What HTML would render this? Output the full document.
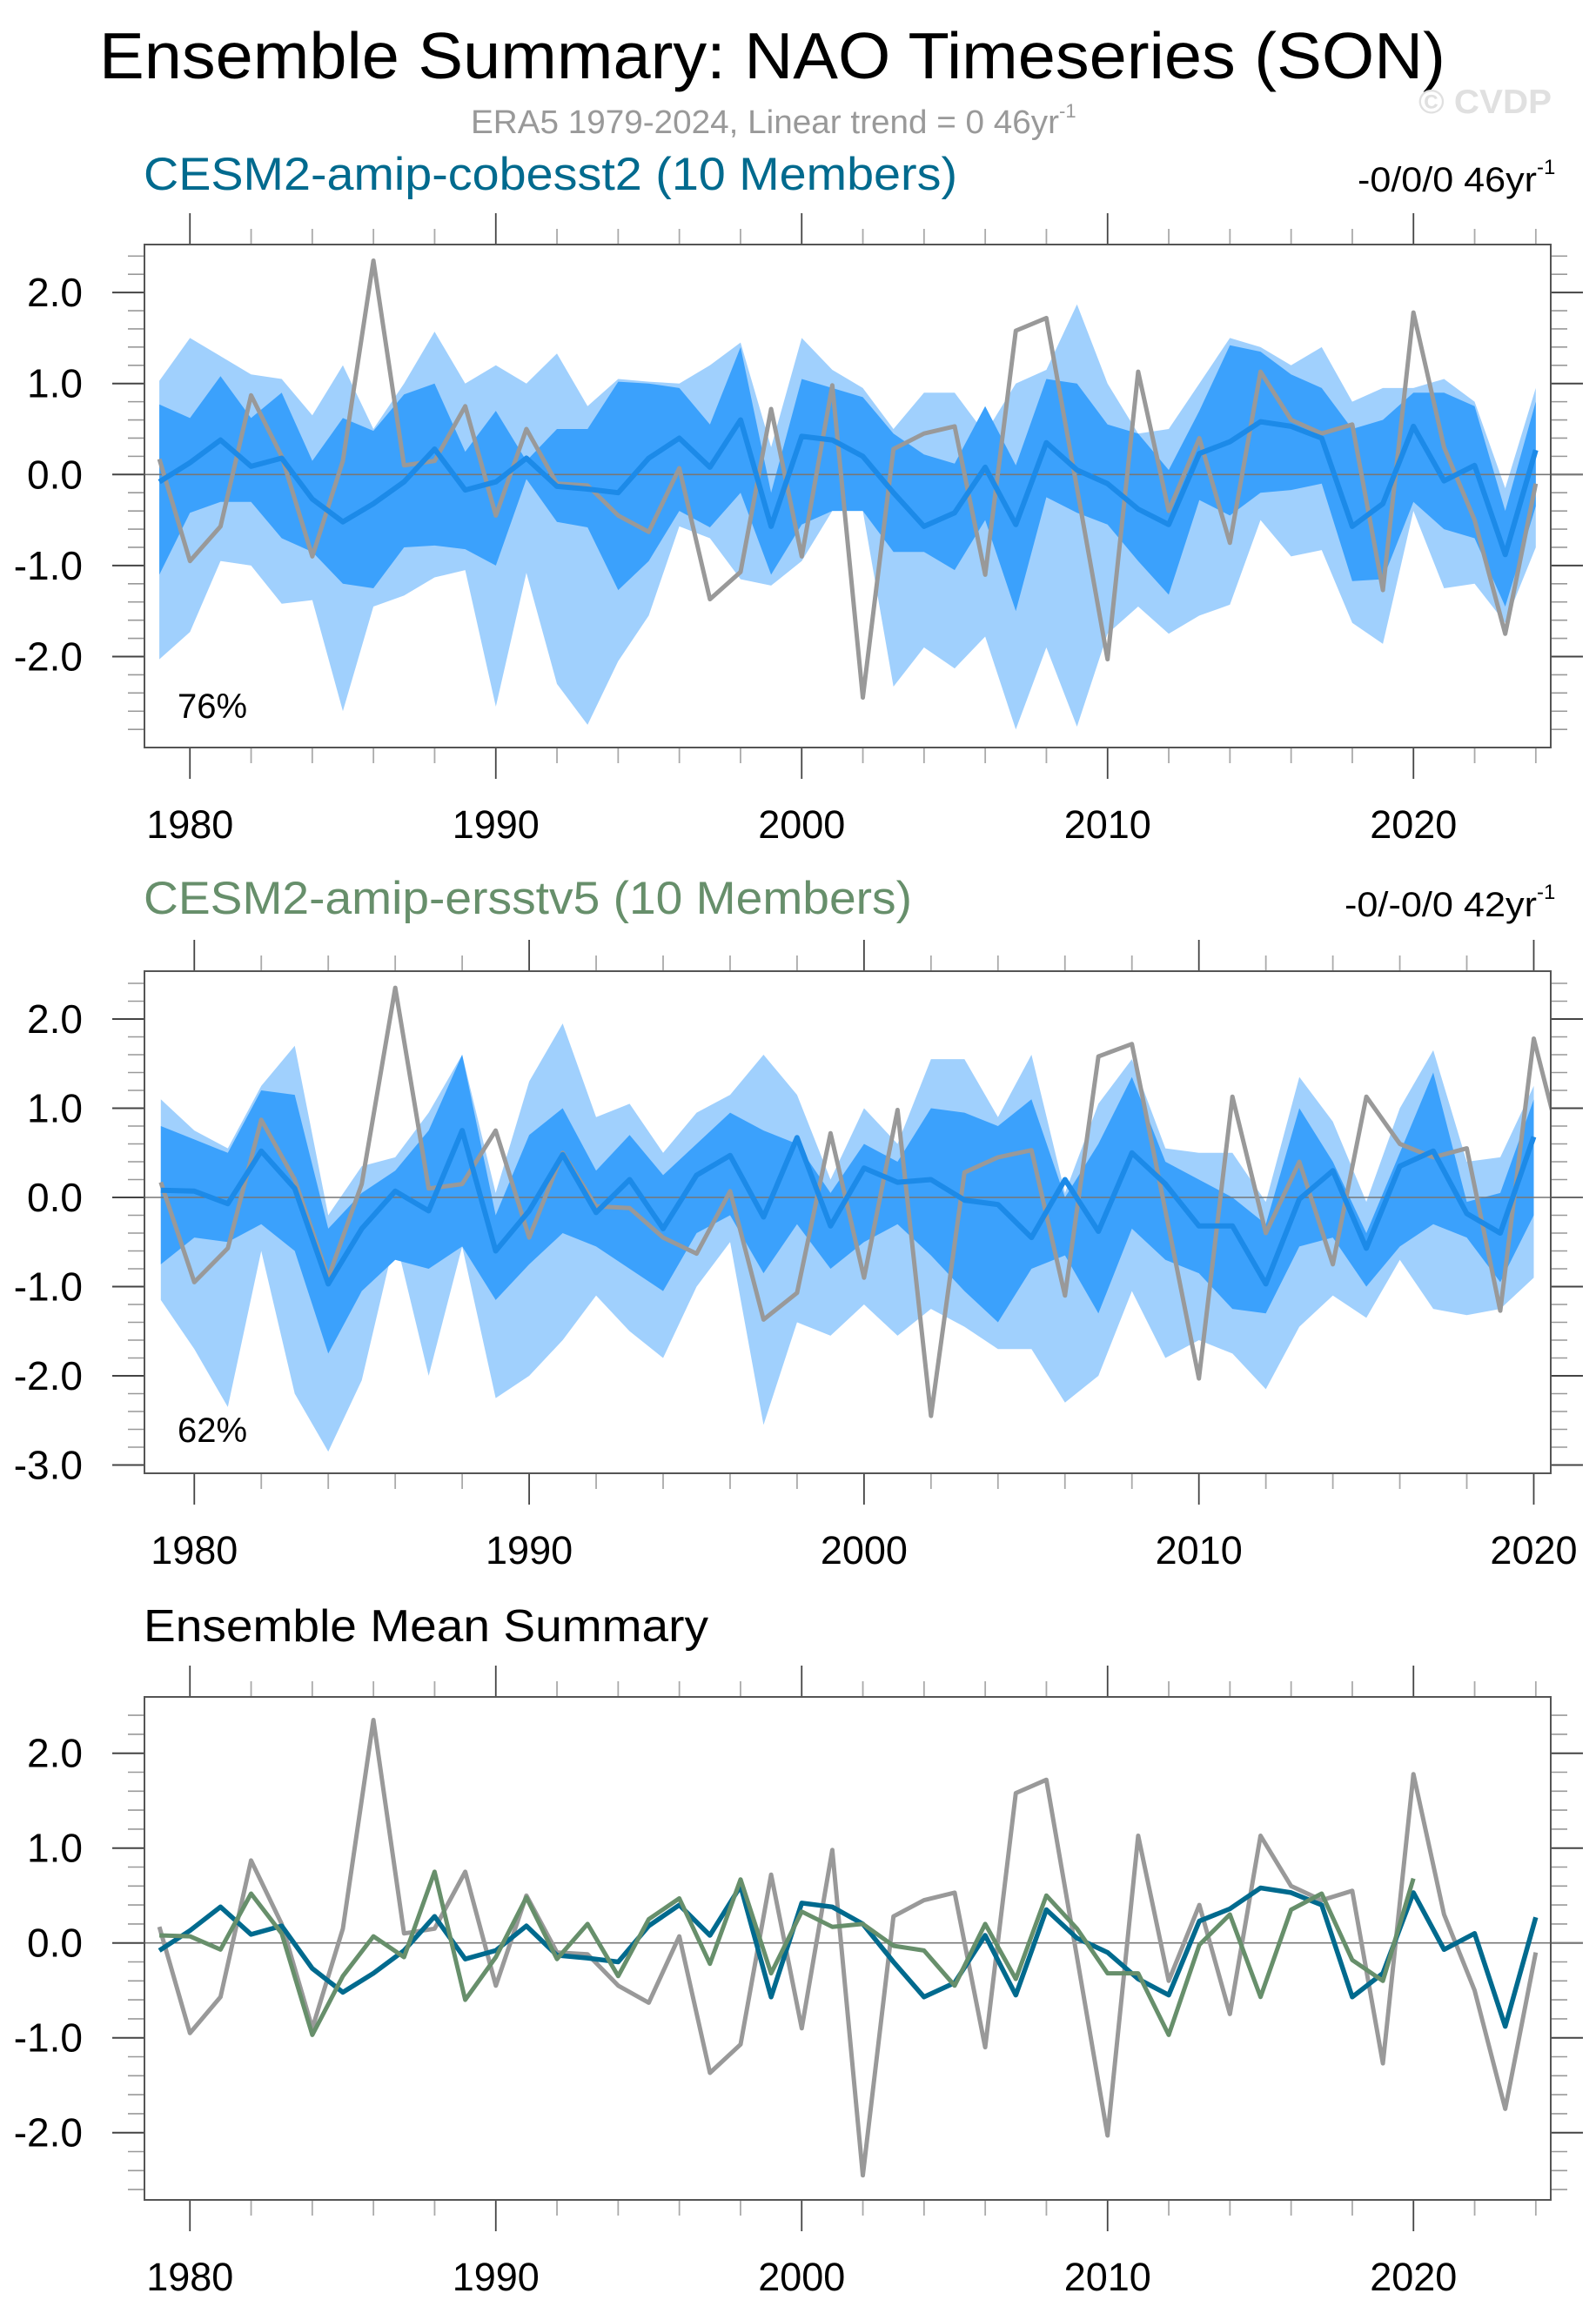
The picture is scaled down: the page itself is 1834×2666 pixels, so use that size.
<!DOCTYPE html>
<html><head><meta charset="utf-8"><style>
html,body{margin:0;padding:0;background:#fff;}
svg{display:block;font-family:"Liberation Sans",Arial,sans-serif;}
</style></head><body>
<svg id="chart" xmlns="http://www.w3.org/2000/svg" width="1834" height="2666" viewBox="0 0 1834 2666">
<rect x="0" y="0" width="1834" height="2666" fill="#fff"/>
<text x="114" y="90" font-size="75" fill="#000" textLength="1547" lengthAdjust="spacingAndGlyphs">Ensemble Summary: NAO Timeseries (SON)</text>
<text x="541" y="153" font-size="38" fill="#999"><tspan textLength="676" lengthAdjust="spacingAndGlyphs">ERA5 1979-2024, Linear trend = 0 46yr</tspan><tspan font-size="22" dy="-18">-1</tspan></text>
<text x="1630" y="130" font-size="39" font-weight="bold" fill="#e0e0e0" textLength="153" lengthAdjust="spacingAndGlyphs">© CVDP</text>

<text x="165" y="218" font-size="53" fill="#006a8e" textLength="935" lengthAdjust="spacingAndGlyphs">CESM2-amip-cobesst2 (10 Members)</text>
<text x="1560" y="220" font-size="40" fill="#000"><tspan textLength="206" lengthAdjust="spacingAndGlyphs">-0/0/0 46yr</tspan><tspan font-size="24" dy="-20">-1</tspan></text>

<text x="165" y="1050" font-size="53" fill="#678f6b" textLength="883" lengthAdjust="spacingAndGlyphs">CESM2-amip-ersstv5 (10 Members)</text>
<text x="1545" y="1053" font-size="40" fill="#000"><tspan textLength="221" lengthAdjust="spacingAndGlyphs">-0/-0/0 42yr</tspan><tspan font-size="24" dy="-20">-1</tspan></text>

<text x="165" y="1886" font-size="52" fill="#000" textLength="649" lengthAdjust="spacingAndGlyphs">Ensemble Mean Summary</text>
<g id="plots"></g>
</svg>
<script>
// ---------- data ----------
const years1 = [1979,1980,1981,1982,1983,1984,1985,1986,1987,1988,1989,1990,1991,1992,1993,1994,1995,1996,1997,1998,1999,2000,2001,2002,2003,2004,2005,2006,2007,2008,2009,2010,2011,2012,2013,2014,2015,2016,2017,2018,2019,2020,2021,2022,2023,2024];
const years2 = years1.slice(0,42);
const obsEra5 = [0.17,-0.95,-0.57,0.87,0.2,-0.9,0.15,2.35,0.1,0.15,0.75,-0.45,0.5,-0.1,-0.12,-0.45,-0.63,0.07,-1.37,-1.07,0.72,-0.9,0.98,-2.45,0.28,0.45,0.53,-1.1,1.58,1.72,-0.15,-2.03,1.13,-0.4,0.4,-0.75,1.13,0.6,0.45,0.55,-1.27,1.78,0.3,-0.5,-1.75,-0.1];
const meanCobe = [-0.08,0.13,0.38,0.09,0.18,-0.27,-0.52,-0.32,-0.08,0.28,-0.17,-0.08,0.18,-0.13,-0.16,-0.2,0.18,0.4,0.08,0.6,-0.57,0.42,0.38,0.2,-0.2,-0.57,-0.42,0.08,-0.55,0.35,0.05,-0.1,-0.38,-0.55,0.23,0.36,0.58,0.53,0.4,-0.57,-0.32,0.53,-0.07,0.1,-0.88,0.27];
const meanErsst = [0.08,0.07,-0.07,0.52,0.1,-0.97,-0.35,0.07,-0.15,0.75,-0.6,-0.15,0.48,-0.17,0.2,-0.35,0.25,0.47,-0.22,0.67,-0.32,0.33,0.17,0.2,-0.03,-0.08,-0.45,0.2,-0.38,0.5,0.15,-0.32,-0.32,-0.97,-0.02,0.3,-0.57,0.35,0.52,-0.18,-0.4,0.68];
const cobeMax = [1.03,1.5,1.3,1.1,1.05,0.65,1.2,0.5,1.0,1.57,1.0,1.2,1.0,1.33,0.75,1.05,1.02,1.0,1.2,1.45,0.3,1.5,1.15,0.95,0.5,0.9,0.9,0.45,1.0,1.15,1.87,1.0,0.45,0.5,1.0,1.5,1.4,1.2,1.4,0.8,0.95,0.95,1.05,0.8,-0.15,0.95];
const cobeHi = [0.77,0.62,1.08,0.62,0.9,0.15,0.62,0.48,0.88,1.0,0.25,0.7,0.15,0.5,0.5,1.02,1.0,0.95,0.55,1.4,-0.2,1.05,0.95,0.85,0.45,0.22,0.12,0.75,0.1,1.05,1.0,0.55,0.45,0.05,0.7,1.42,1.35,1.1,0.95,0.5,0.6,0.9,0.9,0.75,-0.4,0.8];
const cobeLo = [-1.1,-0.42,-0.3,-0.3,-0.7,-0.85,-1.2,-1.25,-0.8,-0.78,-0.82,-1.0,-0.05,-0.52,-0.58,-1.27,-0.95,-0.4,-0.58,-0.2,-1.1,-0.55,-0.4,-0.4,-0.85,-0.85,-1.05,-0.5,-1.5,-0.25,-0.42,-0.55,-0.95,-1.32,-0.28,-0.45,-0.2,-0.17,-0.1,-1.17,-1.15,-0.3,-0.6,-0.7,-1.45,-0.35];
const cobeMin = [-2.03,-1.73,-0.95,-1.0,-1.42,-1.38,-2.6,-1.45,-1.33,-1.13,-1.05,-2.55,-1.08,-2.3,-2.75,-2.05,-1.55,-0.57,-0.7,-1.15,-1.22,-0.95,-0.4,-0.4,-2.33,-1.9,-2.13,-1.78,-2.8,-1.9,-2.77,-1.75,-1.45,-1.75,-1.55,-1.43,-0.5,-0.9,-0.83,-1.63,-1.86,-0.4,-1.25,-1.2,-1.63,-0.8];
const ersstMax = [1.1,0.75,0.55,1.25,1.7,-0.2,0.35,0.45,0.95,1.6,0.05,1.3,1.95,0.9,1.05,0.5,0.95,1.15,1.6,1.15,0.2,1.0,0.6,1.55,1.55,0.9,1.6,0.05,1.05,1.55,0.55,0.5,0.5,-0.05,1.35,0.85,-0.05,1.0,1.65,0.4,0.45,1.25];
const ersstHi = [0.8,0.65,0.5,1.2,1.15,-0.35,0.05,0.3,0.75,1.6,-0.2,0.7,1.0,0.3,0.7,0.25,0.6,0.95,0.75,0.6,0.05,0.6,0.4,1.0,0.95,0.8,1.1,0.0,0.6,1.35,0.4,0.2,0.0,-0.3,1.0,0.4,-0.4,0.5,1.4,-0.05,0.05,1.1];
const ersstLo = [-0.75,-0.45,-0.5,-0.3,-0.6,-1.75,-1.05,-0.7,-0.8,-0.55,-1.15,-0.75,-0.4,-0.55,-0.8,-1.05,-0.4,-0.2,-0.85,-0.3,-0.8,-0.5,-0.3,-0.65,-1.05,-1.4,-0.8,-0.65,-1.3,-0.35,-0.7,-0.85,-1.25,-1.3,-0.55,-0.45,-1.0,-0.55,-0.3,-0.45,-0.95,-0.2];
const ersstMin = [-1.15,-1.7,-2.35,-0.6,-2.2,-2.85,-2.05,-0.45,-2.0,-0.55,-2.25,-2.0,-1.6,-1.1,-1.5,-1.8,-1.0,-0.5,-2.55,-1.4,-1.55,-1.2,-1.55,-1.25,-1.45,-1.7,-1.7,-2.3,-2.0,-1.05,-1.8,-1.6,-1.75,-2.15,-1.45,-1.1,-1.35,-0.7,-1.25,-1.32,-1.25,-0.9];
const yTicks1 = [2,1,0,-1,-2];
const yTicks2 = [2,1,0,-1,-2,-3];
const xTickYears = [1980,1990,2000,2010,2020];
const pctLabels = ["76%","62%"];

// ---------- helpers ----------
const NS = "http://www.w3.org/2000/svg";
const root = document.getElementById('plots');
function mk(tag, attrs, parent){ const e=document.createElementNS(NS,tag); for(const k in attrs) e.setAttribute(k,attrs[k]); (parent||root).appendChild(e); return e; }
function makeAxes(cfg){
  const xs = y => cfg.x0 + (y - cfg.yr0) * cfg.step;
  const ys = v => cfg.zero - v * cfg.unit;
  return {xs, ys};
}
function drawFrame(g, cfg, ax, yTicks, id){
  const L=cfg.left, R=cfg.right, T=cfg.top, B=cfg.bottom;
  // clip
  const cp = mk('clipPath',{id:'clip'+id}, g);
  mk('rect',{x:L,y:T,width:R-L,height:B-T}, cp);
  // y minor ticks
  const vmin = (cfg.zero - B)/cfg.unit, vmax = (cfg.zero - T)/cfg.unit;
  for(let k=Math.ceil(vmin*5-1e-6); k<=Math.floor(vmax*5+1e-6); k++){
    if(k%5===0) continue;
    const y = ax.ys(k/5);
    const t1 = mk('line',{x1:L-19,y1:y,x2:L,y2:y,stroke:'#999','stroke-width':1.6}, g);
    
    
    const t2 = mk('line',{x1:R,y1:y,x2:R+19,y2:y,stroke:'#999','stroke-width':1.6}, g);
    
    
  }
  yTicks.forEach(v=>{
    const y = ax.ys(v);
    const t1 = mk('line',{x1:L-37,y1:y,x2:L,y2:y,stroke:'#444','stroke-width':2}, g);
    
    
    const t2 = mk('line',{x1:R,y1:y,x2:R+37,y2:y,stroke:'#444','stroke-width':2}, g);
    
    
    const lb = mk('text',{x:95,y:y+16,'font-size':46,'text-anchor':'end',fill:'#000'}, g);
    
    
    lb.textContent = v.toFixed(1);
  });
  // x ticks
  const yrMin = Math.ceil(cfg.yr0 + (L-cfg.x0)/cfg.step), yrMax = Math.floor(cfg.yr0 + (R-cfg.x0)/cfg.step);
  for(let yr=yrMin; yr<=yrMax; yr++){
    if(yr%2!==0) continue;
    const x = ax.xs(yr);
    const major = yr%10===0;
    const len = major?36:18, col = major?'#444':'#aaa';
    const a = mk('line',{x1:x,y1:T-len,x2:x,y2:T,stroke:col,'stroke-width':1.8}, g);
    
    
    const b = mk('line',{x1:x,y1:B,x2:x,y2:B+len,stroke:col,'stroke-width':1.8}, g);
    
    
  }
  xTickYears.forEach(yr=>{
    const lb = mk('text',{x:ax.xs(yr),y:B+104,'font-size':45,'text-anchor':'middle',fill:'#000'}, g);
    
    
    lb.textContent = String(yr);
  });
  return 'url(#clip'+id+')';
}
function bandPath(ax, yrs, upper, lower){
  let d='';
  yrs.forEach((yr,i)=>{ d += (i?'L':'M') + ax.xs(yr).toFixed(1) + ',' + ax.ys(upper[i]).toFixed(1); });
  for(let i=yrs.length-1;i>=0;i--){ d += 'L' + ax.xs(yrs[i]).toFixed(1) + ',' + ax.ys(lower[i]).toFixed(1); }
  return d+'Z';
}
function linePath(ax, yrs, vals){
  let d='';
  yrs.forEach((yr,i)=>{ d += (i?'L':'M') + ax.xs(yr).toFixed(1) + ',' + ax.ys(vals[i]).toFixed(1); });
  return d;
}
function zeroLine(g, cfg, ax){
  const z = mk('line',{x1:cfg.left,y1:ax.ys(0),x2:cfg.right+37,y2:ax.ys(0),stroke:'#777','stroke-width':1.6}, g);
  
  
}
function box(g,cfg){
  const r = mk('rect',{x:cfg.left,y:cfg.top,width:cfg.right-cfg.left,height:cfg.bottom-cfg.top,fill:'none',stroke:'#555','stroke-width':2}, g);
  
  
}

// ---------- panel 1 ----------
function ensemblePanel(cfg, yrs, mx, hi, lo, mn, mean, yTicks, pct, id, name){
  const g = mk('g',{});
  
  
  const ax = makeAxes(cfg);
  const clip = drawFrame(g, cfg, ax, yTicks, id);
  const p1 = mk('path',{d:bandPath(ax,yrs,mx,mn),fill:'#a0d0fd','clip-path':clip}, g);
  
  
  const p2 = mk('path',{d:bandPath(ax,yrs,hi,lo),fill:'#3ba1fc','clip-path':clip}, g);
  
  
  zeroLine(g,cfg,ax);
  const o = mk('path',{d:linePath(ax,years1,obsEra5),fill:'none',stroke:'#999','stroke-width':5,'stroke-linejoin':'round','clip-path':clip}, g);
  
  
  const m = mk('path',{d:linePath(ax,yrs,mean),fill:'none',stroke:'#1c8ae8','stroke-width':6,'stroke-linejoin':'round','clip-path':clip}, g);
  
  
  box(g,cfg);
  const t = mk('text',{x:cfg.left+38,y:cfg.pctY,'font-size':40,fill:'#000'}, g);
  
  
  t.textContent = pct;
}
const cfg1 = {left:166,right:1782,top:281,bottom:859,x0:183.1,yr0:1979,step:35.15,zero:545.3,unit:104.6,pctY:825};
const cfg2 = {left:166,right:1782,top:1116,bottom:1693,x0:184.8,yr0:1979,step:38.48,zero:1376,unit:102.5,pctY:1657};
const cfg3 = {left:166,right:1782,top:1950,bottom:2528,x0:183.1,yr0:1979,step:35.15,zero:2232.7,unit:109,pctY:0};
ensemblePanel(cfg1, years1, cobeMax, cobeHi, cobeLo, cobeMin, meanCobe, yTicks1, pctLabels[0], 1, 'panel-cobesst2');
ensemblePanel(cfg2, years2, ersstMax, ersstHi, ersstLo, ersstMin, meanErsst, yTicks2, pctLabels[1], 2, 'panel-ersstv5');

// ---------- panel 3 ----------
(function(){
  const g = mk('g',{});
  
  
  const ax = makeAxes(cfg3);
  const clip = drawFrame(g, cfg3, ax, yTicks1, 3);
  zeroLine(g,cfg3,ax);
  const o = mk('path',{d:linePath(ax,years1,obsEra5),fill:'none',stroke:'#999','stroke-width':5,'stroke-linejoin':'round','clip-path':clip}, g);
  
  
  const a = mk('path',{d:linePath(ax,years1,meanCobe),fill:'none',stroke:'#006a8e','stroke-width':5.5,'stroke-linejoin':'round','clip-path':clip}, g);
  
  
  const b = mk('path',{d:linePath(ax,years2,meanErsst),fill:'none',stroke:'#678f6b','stroke-width':5,'stroke-linejoin':'round','clip-path':clip}, g);
  
  
  box(g,cfg3);
})();
</script>
</body></html>
